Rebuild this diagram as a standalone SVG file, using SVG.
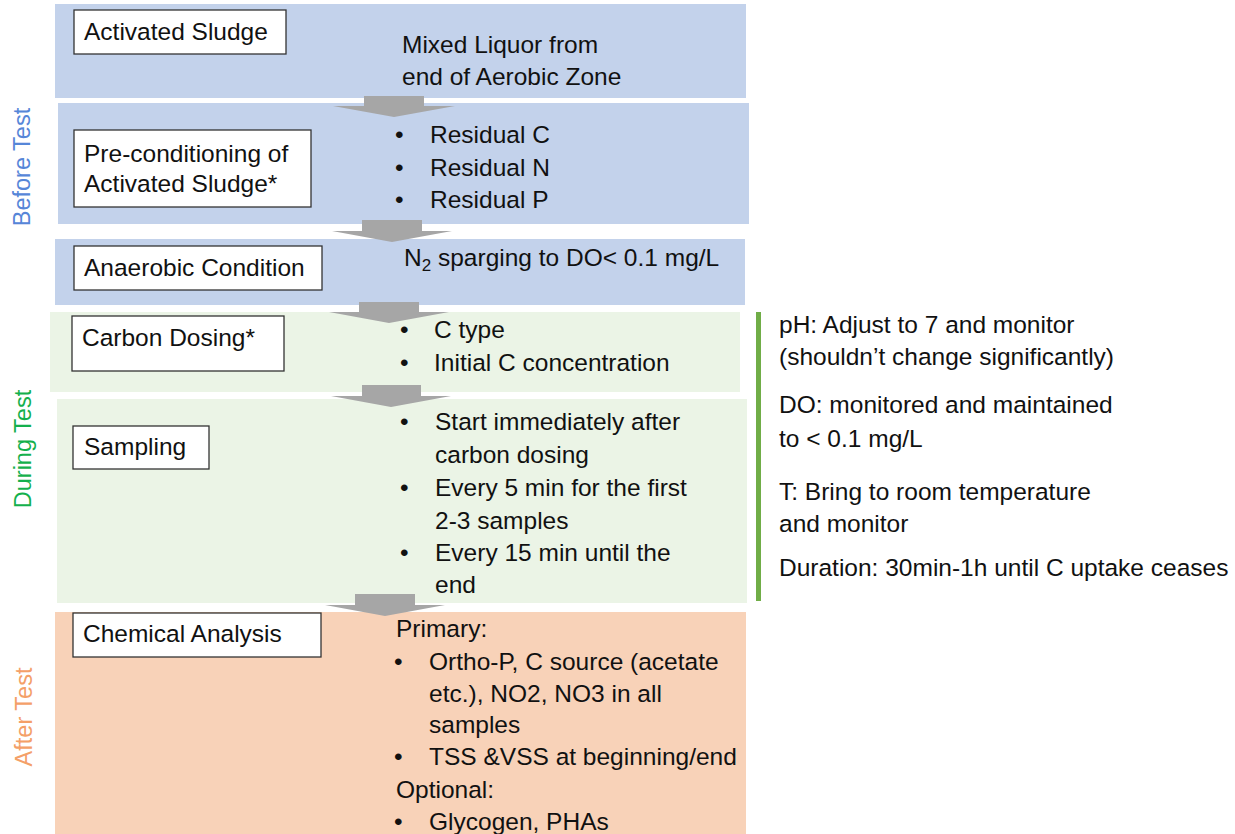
<svg xmlns="http://www.w3.org/2000/svg" width="1235" height="834" viewBox="0 0 1235 834">
<style>
.blue{fill:#C3D2EB}
.green{fill:#EBF4E6}
.orange{fill:#F8D2B8}
.box{fill:#fff;stroke:#333;stroke-width:1.3}
.t{font-family:"Liberation Sans",Arial,sans-serif;font-size:24.5px;fill:#111}
.side{font-family:"Liberation Sans",Arial,sans-serif;font-size:23.5px;text-anchor:middle}
.arrow{fill:#A6A6A6}
</style>
<rect width="1235" height="834" fill="#fff"/>
<g id="bands">
<rect class="blue" x="55" y="4" width="691" height="94"/>
<rect class="blue" x="58" y="103" width="691" height="121"/>
<rect class="blue" x="55" y="239" width="690" height="66"/>
<rect class="green" x="50" y="312" width="690" height="80"/>
<rect class="green" x="57" y="399" width="690" height="204"/>
<rect class="orange" x="55" y="612" width="691" height="222"/>
</g>
<g id="phase-labels">
<text class="side" fill="#5686D8" transform="translate(30,167) rotate(-90)">Before Test</text>
<text class="side" fill="#14B04C" transform="translate(31,449) rotate(-90)">During Test</text>
<text class="side" fill="#F4A068" transform="translate(32,717) rotate(-90)">After Test</text>
</g>
<g id="connectors">
<path class="arrow" d="M364,96 H424 V106 H455 L394,117 L333,106 H364 Z"/>
<path class="arrow" d="M362,220 H422 V231 H452 L392,242 L332,231 H362 Z"/>
<path class="arrow" d="M359,302 H419 V312 H449 L389,323 L329,312 H359 Z"/>
<path class="arrow" d="M362,385 H421 V396 H451 L391,407 L331,396 H362 Z"/>
<path class="arrow" d="M355,594 H415 V605 H445 L385,616 L325,605 H355 Z"/>
</g>
<g id="activated-sludge">
<rect class="box" x="74" y="10" width="212" height="44"/>
<text class="t" x="84" y="40">Activated Sludge</text>
<text class="t" x="402" y="53">Mixed Liquor from</text>
<text class="t" x="402" y="85">end of Aerobic Zone</text>
</g>
<g id="pre-conditioning">
<rect class="box" x="74" y="130" width="237" height="77"/>
<text class="t" x="84" y="162">Pre-conditioning of</text>
<text class="t" x="84" y="192">Activated Sludge*</text>
<text class="t" x="395" y="143">•</text><text class="t" x="430" y="143">Residual C</text>
<text class="t" x="395" y="176">•</text><text class="t" x="430" y="176">Residual N</text>
<text class="t" x="395" y="208">•</text><text class="t" x="430" y="208">Residual P</text>
</g>
<g id="anaerobic-condition">
<rect class="box" x="74" y="246" width="248" height="44"/>
<text class="t" x="84" y="276">Anaerobic Condition</text>
<text class="t" x="404" y="266">N<tspan font-size="17" dy="5">2</tspan><tspan dy="-5"> sparging to DO&lt; 0.1 mg/L</tspan></text>
</g>
<g id="carbon-dosing">
<rect class="box" x="72" y="316" width="212" height="55"/>
<text class="t" x="82" y="346">Carbon Dosing*</text>
<text class="t" x="400" y="338">•</text><text class="t" x="434" y="338">C type</text>
<text class="t" x="400" y="371">•</text><text class="t" x="434" y="371">Initial C concentration</text>
</g>
<g id="sampling">
<rect class="box" x="73" y="426" width="136" height="43"/>
<text class="t" x="84" y="455">Sampling</text>
<text class="t" x="400" y="430">•</text><text class="t" x="435" y="430">Start immediately after</text>
<text class="t" x="435" y="463">carbon dosing</text>
<text class="t" x="400" y="496">•</text><text class="t" x="435" y="496">Every 5 min for the first</text>
<text class="t" x="435" y="529">2-3 samples</text>
<text class="t" x="400" y="561">•</text><text class="t" x="435" y="561">Every 15 min until the</text>
<text class="t" x="435" y="593">end</text>
</g>
<g id="chemical-analysis">
<rect class="box" x="73" y="613" width="248" height="44"/>
<text class="t" x="83" y="642">Chemical Analysis</text>
<text class="t" x="396" y="637">Primary:</text>
<text class="t" x="394" y="670">•</text><text class="t" x="429" y="670">Ortho-P, C source (acetate</text>
<text class="t" x="429" y="702">etc.), NO2, NO3 in all</text>
<text class="t" x="429" y="733">samples</text>
<text class="t" x="394" y="765">•</text><text class="t" x="429" y="765">TSS &amp;VSS at beginning/end</text>
<text class="t" x="396" y="798">Optional:</text>
<text class="t" x="394" y="830">•</text><text class="t" x="429" y="830">Glycogen, PHAs</text>
</g>
<g id="test-conditions">
<rect x="756" y="312" width="5" height="289" fill="#70AD47"/>
<text class="t" x="779" y="333">pH: Adjust to 7 and monitor</text>
<text class="t" x="779" y="365">(shouldn’t change significantly)</text>
<text class="t" x="779" y="413">DO: monitored and maintained</text>
<text class="t" x="779" y="447">to &lt; 0.1 mg/L</text>
<text class="t" x="779" y="500">T: Bring to room temperature</text>
<text class="t" x="779" y="532">and monitor</text>
<text class="t" x="779" y="576">Duration: 30min-1h until C uptake ceases</text>
</g>
</svg>
